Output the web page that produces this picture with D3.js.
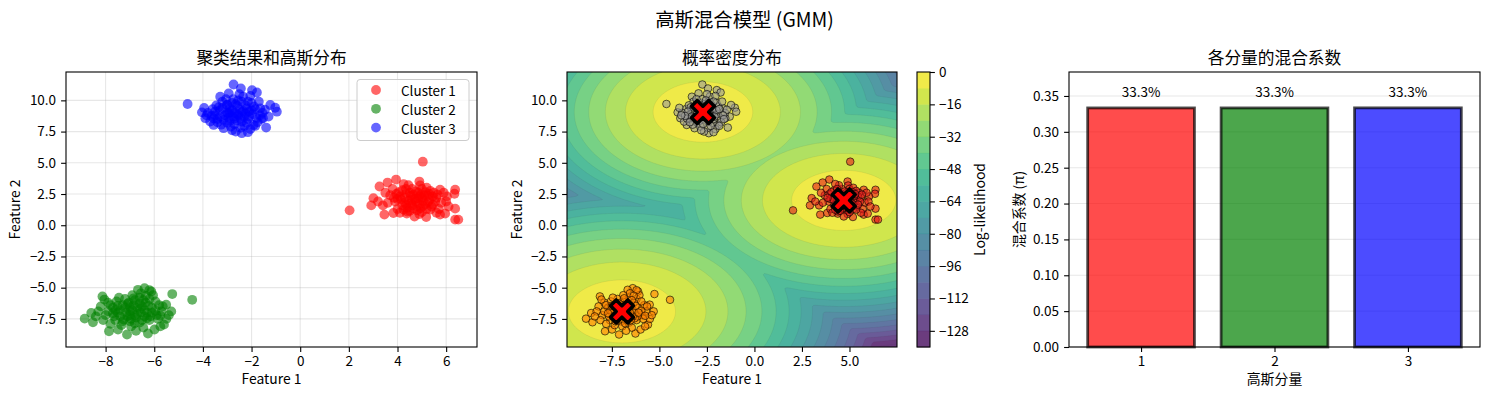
<!DOCTYPE html>
<html>
<head>
<meta charset="utf-8">
<script src="https://cdn.jsdelivr.net/npm/d3@7"></script>
<style>
body{margin:0;background:#fff;}
svg text{font-family:"Noto Sans CJK SC",sans-serif;fill:#000;}
</style>
</head>
<body>
<svg id="fig" width="1489" height="397"></svg>
<script>
// ---- data ----
var cluster1 = [[5.04,5.09],[2.03,1.19],[3.26,3.10],[3.59,3.42],[3.94,3.66],[3.01,2.17],[2.92,1.59],[3.40,1.59],[3.46,0.85],[3.83,0.98],[4.38,0.93],[5.18,0.66],[5.75,0.85],[5.96,0.93],[6.37,1.33],[6.37,0.45],[6.50,0.45],[6.37,2.84],[6.34,2.52],[6.03,2.31],[5.75,2.84],[4.90,3.50],[4.93,3.18],
  [4.1,2.3],[4.3,1.8],[4.5,2.6],[4.7,2.1],[4.9,1.7],[5.1,2.4],[5.3,2.0],[4.4,1.4],[4.8,1.2],[5.0,2.9],[5.4,1.5],[5.6,2.2],[4.2,2.8],[3.9,1.9],[4.0,1.3],[4.6,2.9],[5.2,3.0],[5.5,2.6],[5.8,1.8],[4.3,2.2],[4.6,1.6],[5.0,2.2],[4.75,1.9],[4.55,2.35],[5.2,1.3],[3.7,2.4],[3.8,2.9],[4.1,1.0],[4.9,0.9],[5.7,1.3],[6.0,1.9],[5.35,2.75],[4.45,3.2],[3.6,1.8],[4.2,1.6],[4.85,2.6],[5.05,1.55],[5.45,2.3],[4.65,1.35],[4.35,2.55],[3.95,2.5],[5.25,1.85],[4.0,2.1],[5.6,1.0],[4.7,0.7],[3.5,2.6],[6.1,1.5],[5.9,2.6],[3.2,1.9],[4.25,3.3],[4.95,2.45],[4.4,1.1],[5.15,2.65],
  [4.15,2.05],[4.45,1.95],[4.65,2.45],[4.85,2.15],[5.05,1.95],[5.25,2.35],[4.35,1.65],[4.55,1.75],[4.75,2.7],[4.95,1.35],[5.15,1.7],[5.35,1.25],[4.05,2.65],[3.85,2.2],[5.55,1.9],[5.65,2.45],[4.25,1.25],[4.6,2.05],[4.9,2.3],[5.3,2.5],[4.5,1.15],[5.0,1.05],[5.45,1.65],[4.8,1.5],[4.35,2.9]];
var cluster2 = [[-4.44,-5.97],[-5.26,-5.51],[-8.86,-7.48],[-8.52,-7.77],[-8.59,-7.03],[-8.13,-5.70],[-7.86,-8.49],[-7.49,-8.35],[-7.12,-8.75],[-6.26,-8.67],[-5.99,-8.35],[-5.60,-7.96],[-5.30,-6.90],[-5.51,-6.36],[-6.40,-5.04],[-6.67,-5.17],[-6.12,-5.30],
  [-7.9,-6.2],[-8.2,-6.5],[-8.0,-7.2],[-7.7,-6.6],[-7.5,-7.0],[-7.3,-6.4],[-7.1,-7.3],[-6.9,-6.8],[-6.7,-7.1],[-6.5,-6.5],[-6.3,-7.0],[-6.1,-6.6],[-5.9,-7.2],[-5.8,-6.4],[-6.6,-5.8],[-6.2,-5.9],[-6.8,-6.0],[-7.2,-5.9],[-7.6,-7.6],[-7.0,-7.7],[-6.6,-7.8],[-6.2,-7.6],[-5.85,-7.5],[-7.35,-8.0],[-6.95,-8.1],[-6.45,-8.2],[-8.3,-6.9],[-8.1,-7.6],[-7.8,-7.9],[-7.4,-6.8],[-6.85,-6.4],[-6.35,-6.2],[-5.7,-6.9],[-5.5,-7.5],[-6.05,-5.6],[-6.55,-5.45],[-7.05,-6.2],[-7.55,-6.1],[-8.05,-5.95],[-6.75,-7.4],[-6.15,-7.3],[-7.15,-7.0],[-6.4,-6.8],[-7.65,-7.3],[-5.95,-6.1],[-7.0,-6.55],[-6.6,-6.25],[-5.65,-6.5],[-8.4,-7.3],[-7.25,-7.55],[-6.3,-7.45],[-6.9,-5.6],[-7.45,-5.8],[-5.75,-8.1],[-6.75,-8.45],[-7.9,-6.9],[-6.2,-5.2],[-5.4,-7.2],
  [-7.0,-6.9],[-6.8,-7.2],[-6.6,-6.7],[-7.2,-6.6],[-6.4,-7.3],[-7.4,-7.3],[-6.95,-7.5],[-6.55,-7.0],[-7.1,-6.3],[-6.25,-6.45],[-7.6,-6.8],[-6.7,-6.55],[-7.3,-7.7],[-6.5,-7.6],[-5.95,-6.85],[-7.8,-6.4],[-6.85,-5.85],[-6.35,-5.65],[-7.5,-6.45],[-6.1,-7.0],[-7.0,-7.2],[-6.45,-6.0],[-7.7,-7.05],[-6.8,-7.85],[-5.75,-7.25]];
var cluster3 = [[-4.63,9.71],[-2.74,11.27],[-2.44,10.95],[-1.98,10.82],[-1.78,10.63],[-3.29,10.29],[-2.94,10.56],[-3.01,9.63],[-4.04,9.04],[-3.90,8.57],[-3.56,8.03],[-3.15,7.77],[-2.40,7.37],[-1.92,8.03],[-1.40,7.82],[-1.30,8.70],[-1.03,9.41],[-0.96,9.09],[-1.23,9.63],[-1.64,9.36],[-1.53,8.57],
  [-3.3,9.2],[-3.1,8.8],[-2.9,9.4],[-2.7,9.0],[-2.5,9.3],[-2.3,8.7],[-2.1,9.1],[-1.9,9.5],[-3.4,8.5],[-3.0,8.2],[-2.6,8.4],[-2.2,8.2],[-1.8,8.6],[-2.8,9.8],[-2.4,9.9],[-2.0,9.8],[-3.6,9.3],[-3.8,9.0],[-3.5,8.8],[-2.95,8.6],[-2.55,8.8],[-2.15,8.5],[-2.75,10.1],[-3.2,9.9],[-2.35,10.3],[-1.7,9.9],[-1.55,9.0],[-3.7,8.3],[-2.85,7.9],[-2.45,7.8],[-2.05,7.7],[-2.65,7.5],[-3.45,9.6],[-3.95,9.4],[-2.25,9.6],[-1.95,8.9],[-2.6,9.55],[-3.15,8.45],[-2.35,9.15],[-2.9,9.05],[-3.25,8.05],[-1.75,8.25],[-1.45,9.25],[-2.5,10.5],[-3.05,10.1],[-2.05,10.35],[-1.85,7.95],[-3.55,8.55],[-2.7,8.55],[-2.25,8.95],[-2.95,8.95],[-3.35,9.45],[-1.65,8.8],[-2.15,7.45],[-2.8,7.6],
  [-2.8,9.2],[-2.6,8.9],[-2.4,9.05],[-3.0,9.0],[-2.2,9.35],[-2.75,8.7],[-3.2,9.4],[-2.45,8.55],[-2.0,9.2],[-3.5,9.1],[-2.65,9.7],[-2.1,8.7],[-3.3,8.7],[-2.9,8.35],[-2.4,8.3],[-1.85,9.3],[-3.65,8.75],[-2.55,10.0],[-3.0,9.65],[-2.3,7.95],[-1.6,8.5],[-3.85,8.8],[-2.7,8.1],[-2.15,9.9],[-3.4,8.25]];
var clusterNames = ["Cluster 1", "Cluster 2", "Cluster 3"];
var clusterColors = ["red", "green", "blue"];
var probColors = ["#e41a1c", "#ff7f00", "#999999"];   // Set1 at 0, 0.5, 1

// fitted model
var gmmMeans = [[4.70, 1.99], [-6.97, -6.90], [-2.71, 9.07]];
var gmmStd = [[0.82, 0.72], [0.85, 0.76], [0.78, 0.72]];
var gmmWeights = [0.3333, 0.3333, 0.3334];
var components = ["1", "2", "3"];

// ticks / levels
var llLevels = d3.range(-136, 1, 8);
var cbTicks = d3.range(-128, 1, 16);
var xTicks1 = [-8, -6, -4, -2, 0, 2, 4, 6];
var xTicks2 = [-7.5, -5, -2.5, 0, 2.5, 5];
var yTicks = [-7.5, -5, -2.5, 0, 2.5, 5, 7.5, 10];
var barTicks = [0, 0.05, 0.1, 0.15, 0.2, 0.25, 0.3, 0.35];

var svg = d3.select("#fig");
var TOP = 72, BOT = 347;
var clusters = [cluster1, cluster2, cluster3];
var allPts = d3.merge(clusters);

function minus(f){ return function(d){ return f(d).replace("-", "\u2212"); }; }
var f1 = minus(d3.format(".1f")), f0 = minus(d3.format("d")), f2 = d3.format(".2f");

function xAxis(g, x, vals, fmt){
  g.append("g").attr("transform", "translate(0," + BOT + ")")
    .call(d3.axisBottom(x).tickValues(vals).tickFormat(fmt).tickSize(4.9).tickPadding(5))
    .call(function(s){ s.select(".domain").remove(); s.selectAll("line").attr("stroke-width", 1.1); s.selectAll("text").attr("font-size", null).style("font-size", "13.5px"); });
}
function yAxis(g, y, x0, vals, fmt){
  g.append("g").attr("transform", "translate(" + x0 + ",0)")
    .call(d3.axisLeft(y).tickValues(vals).tickFormat(fmt).tickSize(4.9).tickPadding(5))
    .call(function(s){ s.select(".domain").remove(); s.selectAll("line").attr("stroke-width", 1.1); s.selectAll("text").attr("font-size", null).style("font-size", "13.5px"); });
}
function labels(g, x0, x1, title, xl, yl, ylx){
  g.append("text").attr("x", (x0 + x1) / 2).attr("y", 64).attr("text-anchor", "middle").style("font-size", "16.7px").text(title);
  g.append("text").attr("x", (x0 + x1) / 2).attr("y", 384).attr("text-anchor", "middle").style("font-size", "13.9px").text(xl);
  g.append("text").attr("transform", "translate(" + ylx + "," + (TOP + BOT) / 2 + ") rotate(-90)")
    .attr("text-anchor", "middle").attr("dominant-baseline", "central").style("font-size", "13.9px").text(yl);
}
function frame(g, x0, x1){
  g.append("rect").attr("x", x0).attr("y", TOP).attr("width", x1 - x0).attr("height", BOT - TOP)
    .attr("fill", "none").attr("stroke", "#000").attr("stroke-width", 1.1);
}

svg.append("text").attr("x", 744.5).attr("y", 27).attr("text-anchor", "middle")
  .style("font-size", "19.4px").text("高斯混合模型 (GMM)");

// ================= panel 1 =================
var ex = d3.extent(allPts, function(d){ return d[0]; });
var ey = d3.extent(allPts, function(d){ return d[1]; });
function pad(e, m){ var s = (e[1] - e[0]) * m; return [e[0] - s, e[1] + s]; }
var x1 = d3.scaleLinear().domain(pad(ex, 0.05)).range([66, 477]);
var y1 = d3.scaleLinear().domain(pad(ey, 0.05)).range([BOT, TOP]);
var p1 = svg.append("g");
p1.selectAll(".gx").data(xTicks1).join("line").attr("x1", x1).attr("x2", x1).attr("y1", TOP).attr("y2", BOT)
  .attr("stroke", "#b0b0b0").attr("stroke-opacity", 0.3).attr("stroke-width", 1.1);
p1.selectAll(".gy").data(yTicks).join("line").attr("y1", y1).attr("y2", y1).attr("x1", 66).attr("x2", 477)
  .attr("stroke", "#b0b0b0").attr("stroke-opacity", 0.3).attr("stroke-width", 1.1);
clusters.forEach(function(pts, k){
  p1.append("g").selectAll("circle").data(pts).join("circle")
    .attr("cx", function(d){ return x1(d[0]); }).attr("cy", function(d){ return y1(d[1]); })
    .attr("r", 4.9).attr("fill", clusterColors[k]).attr("fill-opacity", 0.6);
});
xAxis(p1, x1, xTicks1, f0);
yAxis(p1, y1, 66, yTicks, f1);
labels(p1, 66, 477, "聚类结果和高斯分布", "Feature 1", "Feature 2", 14);
frame(p1, 66, 477);
var lg = p1.append("g");
lg.append("rect").attr("x", 357).attr("y", 79.5).attr("width", 112).attr("height", 61).attr("rx", 3)
  .attr("fill", "#fff").attr("fill-opacity", 0.8).attr("stroke", "#ccc").attr("stroke-width", 1);
clusterNames.forEach(function(n, k){
  var yy = 90 + k * 18.8;
  lg.append("circle").attr("cx", 376).attr("cy", yy).attr("r", 4.9).attr("fill", clusterColors[k]).attr("fill-opacity", 0.6);
  lg.append("text").attr("x", 401).attr("y", yy).attr("dominant-baseline", "central").style("font-size", "13.5px").text(n);
});

// ================= panel 2 =================
var x2 = d3.scaleLinear().domain([ex[0] - 1, ex[1] + 1]).range([567, 897]);
var y2 = d3.scaleLinear().domain([ey[0] - 1, ey[1] + 1]).range([BOT, TOP]);
function logLik(x, y){
  var s = 0;
  for (var k = 0; k < 3; k++){
    var sx = gmmStd[k][0], sy = gmmStd[k][1];
    var dx = (x - gmmMeans[k][0]) / sx, dy = (y - gmmMeans[k][1]) / sy;
    s += gmmWeights[k] * Math.exp(-0.5 * (dx * dx + dy * dy)) / (2 * Math.PI * sx * sy);
  }
  return Math.log(s);
}
var nx = 240, ny = 180;
var gx0 = x2.domain()[0], gx1 = x2.domain()[1], gy0 = y2.domain()[0], gy1 = y2.domain()[1];
var stx = (gx1 - gx0) / (nx - 1), sty = (gy1 - gy0) / (ny - 1);
var grid = new Array(nx * ny);
for (var j = 0; j < ny; j++) for (var i = 0; i < nx; i++)
  grid[j * nx + i] = logLik(gx0 + i * stx, gy1 - j * sty);

var cont = d3.contours().size([nx, ny]).thresholds(llLevels.slice(0, -1))(grid);
var proj = d3.geoTransform({ point: function(px, py){
  this.stream.point(x2(gx0 + (px - 0.5) * stx), y2(gy1 - (py - 0.5) * sty));
}});
var cpath = d3.geoPath(proj);
function bandColor(t){ return d3.interpolateViridis((t + 4 - llLevels[0]) / (llLevels[llLevels.length - 1] - llLevels[0])); }

svg.append("clipPath").attr("id", "clip2").append("rect").attr("x", 567).attr("y", TOP).attr("width", 330).attr("height", BOT - TOP);
var p2 = svg.append("g");
var cg = p2.append("g").attr("clip-path", "url(#clip2)").attr("opacity", 0.8);
cg.append("rect").attr("x", 567).attr("y", TOP).attr("width", 330).attr("height", BOT - TOP).attr("fill", bandColor(llLevels[0]));
cg.selectAll("path").data(cont).join("path").attr("d", cpath)
  .attr("fill", function(d){ return bandColor(d.value); })
  .attr("stroke", "rgba(0,0,0,0.12)").attr("stroke-width", 0.6);
clusters.forEach(function(pts, k){
  p2.append("g").selectAll("circle").data(pts).join("circle")
    .attr("cx", function(d){ return x2(d[0]); }).attr("cy", function(d){ return y2(d[1]); })
    .attr("r", 3.8).attr("fill", probColors[k]).attr("fill-opacity", 0.6)
    .attr("stroke", "#000").attr("stroke-opacity", 0.6).attr("stroke-width", 1);
});
var xMarker = { draw: function(ctx, size){
  var s = Math.sqrt(size) / 4;
  var v = [[-1,-2],[0,-1],[1,-2],[2,-1],[1,0],[2,1],[1,2],[0,1],[-1,2],[-2,1],[-1,0],[-2,-1]];
  ctx.moveTo(v[0][0] * s, v[0][1] * s);
  for (var q = 1; q < v.length; q++) ctx.lineTo(v[q][0] * s, v[q][1] * s);
  ctx.closePath();
}};
p2.selectAll(".mu").data(gmmMeans).join("path")
  .attr("transform", function(d){ return "translate(" + x2(d[0]) + "," + y2(d[1]) + ")"; })
  .attr("d", d3.symbol().type(xMarker).size(530))
  .attr("fill", "red").attr("stroke", "#000").attr("stroke-width", 3.5).attr("stroke-linejoin", "round");
xAxis(p2, x2, xTicks2, f1);
yAxis(p2, y2, 567, yTicks, f1);
labels(p2, 567, 897, "概率密度分布", "Feature 1", "Feature 2", 516);
frame(p2, 567, 897);

// colorbar
var yc = d3.scaleLinear().domain([llLevels[0], llLevels[llLevels.length - 1]]).range([BOT, TOP]);
var cb = svg.append("g");
cb.selectAll("rect").data(llLevels.slice(0, -1)).join("rect")
  .attr("x", 917).attr("width", 13).attr("y", function(d){ return yc(d + 8); })
  .attr("height", function(d){ return yc(d) - yc(d + 8) + 0.3; })
  .attr("fill", bandColor).attr("fill-opacity", 0.8);
cb.append("g").attr("transform", "translate(930,0)")
  .call(d3.axisRight(yc).tickValues(cbTicks).tickFormat(f0).tickSize(4.9).tickPadding(4))
  .call(function(s){ s.select(".domain").remove(); s.selectAll("line").attr("stroke-width", 1.1); s.selectAll("text").attr("font-size", null).style("font-size", "13.5px"); });
cb.append("rect").attr("x", 917).attr("y", TOP).attr("width", 13).attr("height", BOT - TOP)
  .attr("fill", "none").attr("stroke", "#000").attr("stroke-width", 1.1);
cb.append("text").attr("transform", "translate(979," + (TOP + BOT) / 2 + ") rotate(-90)")
  .attr("text-anchor", "middle").attr("dominant-baseline", "central").style("font-size", "13.9px").text("Log-likelihood");

// ================= panel 3 =================
var x3 = d3.scaleLinear().domain([0.46, 3.54]).range([1069, 1480]);
var y3 = d3.scaleLinear().domain([0, d3.max(gmmWeights) * 1.15]).range([BOT, TOP]);
var p3 = svg.append("g");
p3.selectAll(".gy").data(barTicks).join("line").attr("y1", y3).attr("y2", y3).attr("x1", 1069).attr("x2", 1480)
  .attr("stroke", "#b0b0b0").attr("stroke-opacity", 0.3).attr("stroke-width", 1.1);
p3.selectAll(".bar").data(gmmWeights).join("rect")
  .attr("x", function(d, i){ return x3(i + 1 - 0.4); })
  .attr("width", x3(1.4) - x3(0.6))
  .attr("y", function(d){ return y3(d); })
  .attr("height", function(d){ return y3(0) - y3(d); })
  .attr("fill", function(d, i){ return clusterColors[i]; }).attr("fill-opacity", 0.7)
  .attr("stroke", "#000").attr("stroke-opacity", 0.7).attr("stroke-width", 2.8);
p3.selectAll(".lbl").data(gmmWeights).join("text")
  .attr("x", function(d, i){ return x3(i + 1); }).attr("y", function(d){ return y3(d + 0.01) - 3.5; })
  .attr("text-anchor", "middle").style("font-size", "13.5px")
  .text(function(d){ return d3.format(".1%")(d); });
xAxis(p3, x3, [1, 2, 3], function(d, i){ return components[i]; });
yAxis(p3, y3, 1069, barTicks, f2);
labels(p3, 1069, 1480, "各分量的混合系数", "高斯分量", "混合系数 (π)", 1018);
frame(p3, 1069, 1480);
</script>
</body>
</html>
